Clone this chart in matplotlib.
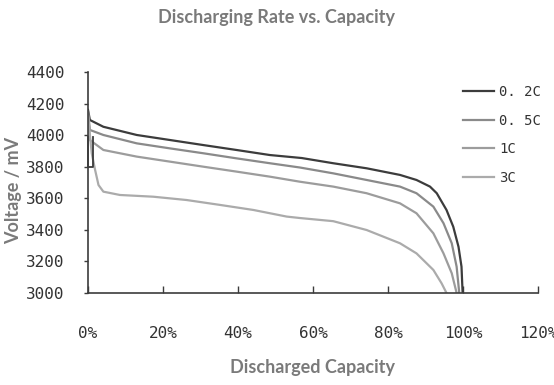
import matplotlib
matplotlib.use("Agg")
import matplotlib.pyplot as plt

# Data (discharged capacity in %, voltage in mV)
x_02 = [0, 0.5, 4.1, 13, 21.9, 30.8, 39.6, 48.5, 57, 65.4, 74.3, 83.2, 87.6, 91.2, 93, 95.6, 97.4, 98.8, 99.6, 99.9]
y_02 = [4160, 4096, 4053, 4001, 3969, 3937, 3906, 3874, 3855, 3822, 3790, 3748, 3716, 3674, 3632, 3526, 3420, 3293, 3167, 3000]
# small step artefact near the start of the 0.2C trace
x_02_start = [0, 0, 1.3, 1.3]
y_02_start = [3990, 3800, 3800, 3990]

x_05 = [0, 0.5, 4.1, 13, 21.9, 30.8, 39.6, 48.5, 56.5, 65.4, 74.3, 83.2, 87.6, 92.1, 94.8, 97, 98.3, 99]
y_05 = [4150, 4033, 4001, 3948, 3916, 3885, 3853, 3822, 3795, 3758, 3716, 3674, 3632, 3547, 3442, 3315, 3167, 3000]

x_1 = [0, 0.5, 4.1, 13, 21.9, 30.8, 39.6, 48.5, 56.5, 65.4, 74.3, 83.2, 87.6, 92.1, 94.8, 97, 98.3]
y_1 = [4140, 3969, 3906, 3864, 3832, 3800, 3769, 3737, 3705, 3674, 3632, 3568, 3505, 3378, 3251, 3125, 3000]

x_3 = [0, 1, 1.9, 2.8, 4.1, 8.5, 17.4, 26.3, 35.2, 44.1, 53, 56.5, 65.4, 74.3, 83.2, 87.6, 92.1, 94.3, 95.6]
y_3 = [4120, 3885, 3779, 3684, 3642, 3621, 3610, 3589, 3558, 3526, 3484, 3475, 3455, 3399, 3315, 3251, 3146, 3061, 3000]

series_labels = ["0. 2C", "0. 5C", "1C", "3C"]
series_colors = ["#3c3c3c", "#8a8a8a", "#9c9c9c", "#ababab"]

x_ticks = [0, 20, 40, 60, 80, 100, 120]
x_tick_labels = ["0%", "20%", "40%", "60%", "80%", "100%", "120%"]
y_ticks = [3000, 3200, 3400, 3600, 3800, 4000, 4200, 4400]

title = "Discharging Rate vs. Capacity"
xlabel = "Discharged Capacity"
ylabel = "Voltage / mV"

fig = plt.figure(figsize=(5.54, 3.85), dpi=100)
ax = fig.add_axes([88/554, 92/385, 450/554, 221/385])

xs = [x_02, x_05, x_1, x_3]
ys = [y_02, y_05, y_1, y_3]
handles = []
for xv, yv, lab, col in zip(xs, ys, series_labels, series_colors):
    h, = ax.plot(xv, yv, color=col, lw=1.6, label=lab)
    handles.append(h)
ax.plot(x_02_start, y_02_start, color=series_colors[0], lw=1.3, clip_on=False)

ax.set_xlim(0, 120)
ax.set_ylim(3000, 4400)
ax.set_xticks(x_ticks)
ax.set_xticklabels(x_tick_labels)
ax.set_yticks(y_ticks)

for s in ["top", "right"]:
    ax.spines[s].set_visible(False)
for s in ["left", "bottom"]:
    ax.spines[s].set_color("#3c3c3c")
    ax.spines[s].set_linewidth(1.2)

ax.tick_params(axis="x", direction="in", length=5, width=1, color="#3c3c3c", pad=24)
ax.tick_params(axis="y", direction="out", length=3, width=1, color="#3c3c3c", pad=14)
for lbl in ax.get_xticklabels() + ax.get_yticklabels():
    lbl.set_fontfamily("DejaVu Sans Mono")
    lbl.set_fontsize(11.5)
    lbl.set_color("#333333")

fig.text(277/554, 1 - 17/385, title, ha="center", va="center",
         fontfamily="Lato", fontweight="bold", fontsize=13, color="#7a7a7a")
fig.text(313/554, 1 - 368/385, xlabel, ha="center", va="center",
         fontfamily="Lato", fontweight="bold", fontsize=13, color="#7a7a7a")
fig.text(14/554, 1 - 190/385, ylabel, ha="center", va="center", rotation=90,
         fontfamily="Lato", fontweight="bold", fontsize=13, color="#7a7a7a")

leg = fig.legend(handles=handles, loc="upper left",
                 bbox_to_anchor=(463/554, 1 - 85/385), frameon=False,
                 prop={"family": "DejaVu Sans Mono", "size": 10},
                 borderpad=0, borderaxespad=0,
                 handlelength=2.2, handletextpad=0.4, labelspacing=1.05)
for t in leg.get_texts():
    t.set_color("#333333")

fig.savefig("out.png", dpi=100)
